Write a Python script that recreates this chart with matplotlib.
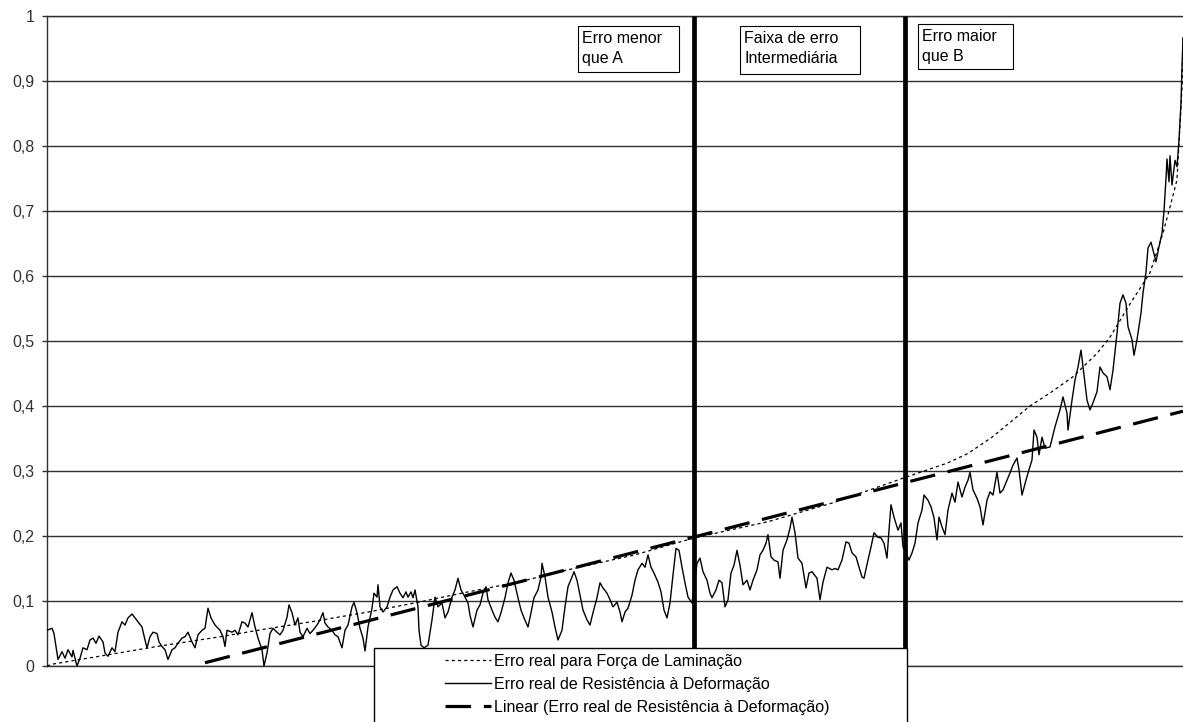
import numpy as np
import matplotlib.pyplot as plt
from matplotlib.patches import Rectangle

plt.rcParams['font.family'] = ['Liberation Sans', 'DejaVu Sans']

# Data (x = sample position along the run, y = error)
#####################################################
forca_pts = [(0, 0.0), (6, 0.003), (60, 0.017), (110, 0.03), (173, 0.045), (211, 0.055),
             (268, 0.069), (321, 0.083), (371, 0.098), (421, 0.114), (471, 0.129),
             (521, 0.148), (588, 0.171), (647, 0.197), (721, 0.222), (788, 0.252),
             (858, 0.29), (900, 0.312), (921, 0.327), (945, 0.352), (968, 0.381), (983, 0.40),
             (1003, 0.42), (1026, 0.445), (1050, 0.481), (1063, 0.506), (1083, 0.557),
             (1096, 0.588), (1103, 0.605), (1116, 0.666), (1123, 0.706), (1130, 0.748),
             (1135, 0.89), (1136, 0.97)]

resist_pts = [
    (0, .055), (5, .058), (7, .05), (10, .02), (11, .01), (15, .022), (18, .012), (21, .025),
    (25, .014), (26, .024), (30, .0), (33, .012), (36, .028), (40, .025), (43, .04), (46, .043),
    (49, .035), (52, .046), (56, .037), (58, .02), (61, .015), (65, .028), (68, .022), (71, .052),
    (75, .068), (78, .063), (81, .074), (85, .08), (88, .074), (91, .068), (95, .06), (98, .04),
    (100, .028), (103, .045), (106, .052), (110, .05), (112, .037), (115, .03), (118, .025),
    (121, .01), (125, .025), (128, .028), (131, .035), (135, .043), (138, .045), (141, .052),
    (145, .037), (148, .028), (151, .048), (155, .055), (158, .058), (161, .089), (164, .074),
    (168, .063), (173, .055), (176, .045), (178, .03), (180, .055), (185, .052), (188, .055),
    (191, .048), (195, .068), (198, .066), (201, .06), (205, .082), (208, .06), (211, .043),
    (215, .025), (217, .0), (220, .02), (223, .05), (226, .058), (230, .052), (233, .048),
    (236, .055), (240, .075), (242, .094), (245, .082), (248, .063), (251, .074), (253, .052),
    (256, .045), (260, .058), (263, .05), (266, .055), (270, .063), (273, .071), (276, .082),
    (278, .066), (281, .06), (285, .055), (288, .048), (291, .045), (295, .028), (298, .055),
    (301, .063), (305, .091), (307, .098), (310, .082), (313, .058), (316, .043), (318, .023),
    (321, .06), (323, .074), (325, .089), (327, .112), (330, .106), (331, .125), (333, .091),
    (336, .083), (340, .091), (343, .106), (346, .117), (350, .122), (353, .112), (356, .105),
    (359, .114), (361, .106), (364, .114), (366, .105), (368, .117), (371, .091), (372, .055),
    (374, .032), (377, .028), (381, .032), (385, .071),
    (388, .106), (391, .091), (395, .097), (398, .074), (401, .083), (405, .106), (408, .117),
    (411, .135), (414, .117), (417, .109), (421, .097), (423, .078), (426, .06), (430, .086),
    (433, .094), (436, .112), (439, .122), (441, .102), (445, .086), (448, .075), (451, .068),
    (454, .082), (458, .105), (461, .128), (464, .143), (467, .132), (471, .105), (474, .086),
    (477, .074), (481, .06), (484, .082), (487, .105), (491, .117), (494, .137), (495, .158),
    (498, .137), (501, .106), (505, .083), (508, .06), (511, .04), (515, .055), (518, .091),
    (521, .122), (525, .137), (527, .145), (530, .132), (533, .109), (536, .086), (540, .071),
    (543, .063), (546, .082), (550, .105), (553, .128), (556, .12), (560, .112), (563, .102),
    (566, .091), (570, .098), (573, .083), (575, .068), (578, .083), (581, .089), (585, .109),
    (588, .132), (591, .148), (595, .158), (598, .152), (601, .171), (604, .152), (607, .143),
    (611, .129), (614, .114), (617, .086), (620, .074), (623, .097), (626, .14), (629, .181),
    (632, .178), (635, .152), (638, .128), (641, .106), (645, .097), (650, .158), (653, .166),
    (656, .145), (660, .132), (663, .112), (665, .105), (669, .117), (672, .132), (675, .128),
    (678, .091), (681, .102), (684, .143), (687, .155), (690, .178), (693, .155), (696, .125),
    (700, .132), (703, .117), (706, .132), (710, .148), (713, .171), (716, .178), (719, .189),
    (721, .202), (724, .168), (727, .163), (731, .16), (733, .135), (736, .178), (740, .194),
    (743, .212), (745, .229), (748, .205), (751, .166), (755, .158), (759, .12), (762, .143),
    (765, .145), (770, .135), (773, .102), (776, .129), (780, .152), (785, .148),
    (788, .15), (791, .148), (795, .163), (799, .191), (802, .189), (805, .174), (809, .168),
    (812, .152), (815, .137), (817, .135), (821, .163), (824, .183), (827, .205), (831, .198),
    (834, .197), (837, .189), (840, .166), (842, .209), (844, .248), (847, .229), (851, .209),
    (854, .22), (856, .183), (859, .174), (862, .163), (865, .174), (868, .189), (871, .22),
    (875, .24), (877, .263), (881, .255), (884, .245), (887, .228), (890, .194), (892, .229),
    (895, .214), (898, .202), (901, .24), (905, .266), (908, .252), (911, .283), (915, .26),
    (918, .275), (921, .286), (923, .298), (926, .271), (930, .258), (933, .245), (936, .217),
    (940, .255), (943, .268), (946, .263), (950, .298), (953, .266), (956, .271), (960, .286),
    (963, .297), (966, .309), (970, .32), (972, .302), (975, .263), (979, .286), (982, .302),
    (985, .317), (987, .363), (990, .352), (992, .325), (995, .352), (998, .335), (1003, .337),
    (1008, .368), (1013, .394), (1016, .414), (1020, .389), (1021, .363), (1025, .409),
    (1028, .44), (1031, .46), (1034, .486), (1036, .46), (1040, .409), (1043, .394),
    (1046, .405), (1050, .422), (1053, .46), (1056, .451), (1060, .445), (1063, .425),
    (1066, .455), (1070, .512), (1073, .558), (1076, .571), (1079, .558), (1081, .522),
    (1085, .502), (1087, .478), (1090, .502), (1094, .543), (1096, .574), (1099, .606),
    (1101, .643), (1104, .652), (1106, .64), (1109, .622), (1112, .645), (1115, .666),
    (1117, .70), (1119, .75), (1120, .78), (1122, .745), (1123, .785), (1125, .74),
    (1128, .778), (1130, .768), (1132, .809), (1134, .866), (1135, .92), (1136, .966)]

trend_x = [158, 1136]
trend_y = [0.005, 0.392]

zone_edges = [647, 858]
zone_labels = ['Erro menor\nque A', 'Faixa de erro\nIntermediária', 'Erro maior\nque B']

legend_labels = ['Erro real para Força de Laminação',
                 'Erro real de Resistência à Deformação',
                 'Linear (Erro real de Resistência à Deformação)']

y_ticks = np.arange(0, 1.01, 0.1)
y_ticklabels = ['0', '0,1', '0,2', '0,3', '0,4', '0,5', '0,6', '0,7', '0,8', '0,9', '1']

forca_x, forca_y = np.array(forca_pts).T
resist_x, resist_y = np.array(resist_pts).T

# Plotting
#####################################################
fig = plt.figure(figsize=(11.83, 7.22), dpi=100)
ax = fig.add_axes([47/1183, 56/722, 1136/1183, 650/722])

grid_c = '#303030'
l1, = ax.plot(forca_x, forca_y, color='black', lw=0.9, dashes=(2.5, 2.5), zorder=3)
l2, = ax.plot(resist_x, resist_y, color='black', lw=1.0, zorder=3)
l3, = ax.plot(trend_x, trend_y, color='black', lw=2.3, dashes=(8, 4), zorder=3)

ax.vlines(zone_edges, 0, 1, colors='black', lw=3.4, zorder=4)

ax.set_xlim(0, 1136)
ax.set_ylim(0, 1)
ax.set_yticks(y_ticks)
ax.set_yticklabels(y_ticklabels)
ax.yaxis.grid(True, color=grid_c, lw=1)
ax.set_axisbelow(True)
for s in ['left', 'bottom', 'top']:
    ax.spines[s].set_color(grid_c)
    ax.spines[s].set_linewidth(1)
ax.spines['right'].set_visible(False)
ax.tick_params(axis='y', direction='out', length=3.6, width=1, color=grid_c,
               pad=5.5, labelsize=11.5, labelcolor='#333333')
ax.tick_params(axis='x', bottom=False, labelbottom=False)

# zone text boxes
boxes = [(531, 632, 0.914, 0.985), (693, 813, 0.911, 0.985), (871, 966, 0.918, 0.988)]
for (x0, x1, y0, y1), txt in zip(boxes, zone_labels):
    ax.add_patch(Rectangle((x0, y0), x1 - x0, y1 - y0, fc='white', ec='black', lw=0.8, zorder=5))
    ax.text(x0 + 4, y1 - 0.008, txt, ha='left', va='top', fontsize=11.5,
            linespacing=1.42, zorder=6)

# legend box hanging below the plot
fig.add_artist(Rectangle((374/1183, -0.01), 533/1183, 0.01 + 74/722, transform=fig.transFigure,
                         fc='white', ec='black', lw=1, zorder=5))
leg = fig.legend([l1, l2, l3], legend_labels, loc='upper left',
                 bbox_to_anchor=(445/1183, 1 - 654/722), frameon=False, fontsize=11.5,
                 handlelength=2.9, handletextpad=0.15, labelspacing=0.5,
                 borderpad=0, borderaxespad=0)
leg.set_zorder(6)

fig.savefig('out.png', dpi=100)
